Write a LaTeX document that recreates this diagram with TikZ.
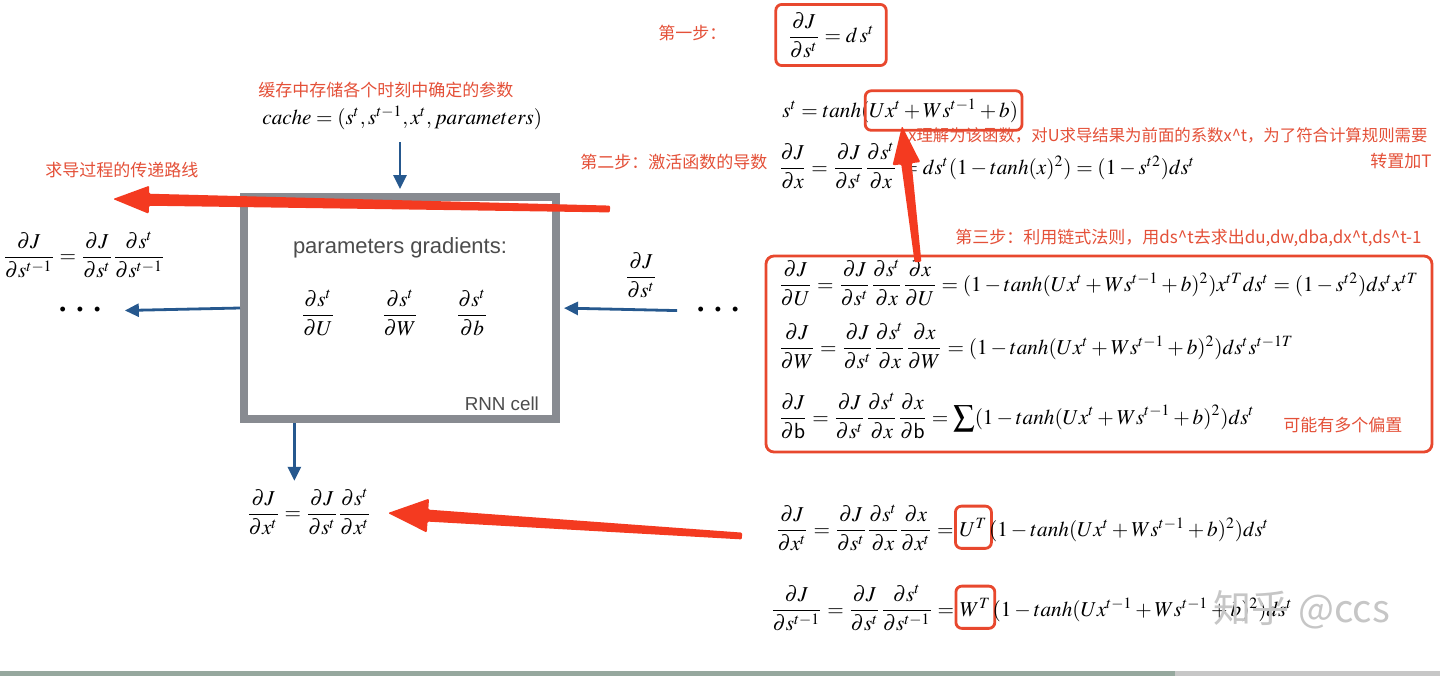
\documentclass[tikz,border=0pt]{standalone}
\usepackage{amsmath,amssymb}
\usepackage{mathptmx}
\usepackage{fontspec}
\setmainfont{Liberation Serif}
\newfontfamily\cjk{Noto Sans CJK SC}
\newfontfamily\helv{Liberation Sans}
\usetikzlibrary{arrows.meta,positioning,calc}
\definecolor{hlred}{RGB}{232,72,46}
\definecolor{notered}{RGB}{228,80,56}
\definecolor{arrowred}{RGB}{244,58,32}
\definecolor{flowblue}{RGB}{38,88,142}
\definecolor{cellgray}{RGB}{136,139,145}
\definecolor{framegreen}{RGB}{150,168,158}
\tikzset{
    eq/.style = {inner sep=0pt, font=\fontsize{10.6}{13}\selectfont},
    note/.style = {text=notered, inner sep=0pt, font=\cjk\fontsize{8.5}{10}\selectfont},
    hlbox/.style = {draw=hlred, line width=1.4pt, rounded corners=3pt, inner sep=3pt},
    flow/.style = {draw=flowblue, line width=1.4pt, -{Triangle[length=7pt,width=6.5pt]}},
    cell/.style = {draw=cellgray, line width=4pt, minimum width=156pt, minimum height=111pt},
    dotsym/.style = {inner sep=0pt, font=\helv\fontsize{9}{9}\selectfont},
}
% tapered red arrow: tail, tip, head length, head half width, neck half width
\newcommand\gradarrow[5]{%
    \coordinate (neck) at ($(#2)!#3!(#1)$);
    \fill[arrowred, rounded corners=0.6pt]
        ($(#1)!1.7pt!90:(#2)$) -- ($(neck)!#5!90:(#2)$) -- ($(neck)!#4!90:(#2)$)
        -- (#2) -- ($(neck)!#4!-90:(#2)$) -- ($(neck)!#5!-90:(#2)$)
        -- ($(#1)!1.7pt!-90:(#2)$) -- cycle;
}
\newcommand\threedots{\textbullet\hspace{5.5pt}\textbullet\hspace{5.5pt}\textbullet}

\begin{document}
\begin{tikzpicture}[x=0.5pt, y=-0.5pt]
\fill[white] (0,0) rectangle (1440,676);
\useasboundingbox (0,0) rectangle (1440,676);
\fill[framegreen] (0,671) rectangle (1175,676);
\fill[black!22] (1175,671) rectangle (1440,676);

% Step one
\node[note, anchor=west] (step1) at (658,33) {第一步：};
\node[eq, hlbox, inner xsep=6pt, inner ysep=4pt] (dJds) at (831,35) {$\dfrac{\partial J}{\partial s^t} = d\,s^t$};

% State update
\node[eq, anchor=base west] (st) at (782,117) {$s^t = tanh($};
\node[eq, hlbox, anchor=base west, inner xsep=2pt, inner ysep=4pt] (stin) at ([xshift=-3pt]st.base east) {$Ux^t + Ws^{t-1} + b)$};
\node[note, anchor=west, font=\cjk\fontsize{8.2}{10}\selectfont] (xnote) at (908,135) {x理解为该函数，对U求导结果为前面的系数x\textasciicircum t，为了符合计算规则需要};
\node[note, anchor=east] (tnote) at (1432,161) {转置加T};

% Step two
\node[note, anchor=west] (step2) at (580,162) {第二步：激活函数的导数};
\node[eq, anchor=base west] (dJdx) at (778,174) {$\dfrac{\partial J}{\partial x} = \dfrac{\partial J}{\partial s^t}\dfrac{\partial s^t}{\partial x} = ds^t(1 - tanh(x)^2) = (1 - s^{t2})ds^t$};

% Step three
\node[note, anchor=west] (step3) at (955,238) {第三步：利用链式法则，用ds\textasciicircum t去求出du,dw,dba,dx\textasciicircum t,ds\textasciicircum t-1};
\node[eq, anchor=base west] (dJdU) at (778,291) {$\dfrac{\partial J}{\partial U} = \dfrac{\partial J}{\partial s^t}\dfrac{\partial s^t}{\partial x}\dfrac{\partial x}{\partial U} = (1 - tanh(Ux^t + Ws^{t-1} + b)^2)x^{tT}ds^t = (1 - s^{t2})ds^t x^{tT}$};
\node[eq, anchor=base west] (dJdW) at (778,354) {$\dfrac{\partial J}{\partial W} = \dfrac{\partial J}{\partial s^t}\dfrac{\partial s^t}{\partial x}\dfrac{\partial x}{\partial W} = (1 - tanh(Ux^t + Ws^{t-1} + b)^2)ds^t s^{t-1T}$};
\node[eq, anchor=base west] (dJdb) at (778,424) {$\dfrac{\partial J}{\partial \mathsf{b}} = \dfrac{\partial J}{\partial s^t}\dfrac{\partial s^t}{\partial x}\dfrac{\partial x}{\partial \mathsf{b}} = \displaystyle\sum (1 - tanh(Ux^t + Ws^{t-1} + b)^2)ds^t$};
\node[note, anchor=west] (bnote) at (1283,425) {可能有多个偏置};
\draw[hlred, line width=1.4pt, rounded corners=4pt] (766,256) rectangle (1432,452);

% Input and previous state gradients
\node[eq, anchor=base west] (dJdxa) at (775,536) {$\dfrac{\partial J}{\partial x^t} = \dfrac{\partial J}{\partial s^t}\dfrac{\partial s^t}{\partial x}\dfrac{\partial x}{\partial x^t} =$};
\node[eq, hlbox, anchor=base west, inner xsep=2pt, inner ysep=6pt] (UT) at (dJdxa.base east) {$U^T$};
\node[eq, anchor=base west] (dJdxb) at ([xshift=-2pt]UT.base east) {$(1 - tanh(Ux^t + Ws^{t-1} + b)^2)ds^t$};

\node[eq, anchor=base west] (dJdsa) at (770,616) {$\dfrac{\partial J}{\partial s^{t-1}} = \dfrac{\partial J}{\partial s^t}\dfrac{\partial s^t}{\partial s^{t-1}} =$};
\node[eq, hlbox, anchor=base west, inner xsep=2pt, inner ysep=6pt] (WT) at (dJdsa.base east) {$W^T$};
\node[eq, anchor=base west] (dJdsb) at ([xshift=-2pt]WT.base east) {$(1 - tanh(Ux^{t-1} + Ws^{t-1} + b)^2)ds^t$};

% RNN cell
\node[note, anchor=west] (cachenote) at (258,90) {缓存中存储各个时刻中确定的参数};
\node[eq, anchor=west] (cache) at (262,118) {$cache = (s^t, s^{t-1}, x^t, parameters)$};
\node[cell] (cell) at (400,308) {};
\node[font=\helv\fontsize{11}{13}\selectfont, text=black!70] (pg) at (400,248) {parameters gradients:};
\node[eq] (gU) at (318,313) {$\dfrac{\partial s^t}{\partial U}$};
\node[eq] (gW) at (400,313) {$\dfrac{\partial s^t}{\partial W}$};
\node[eq] (gb) at (472,313) {$\dfrac{\partial s^t}{\partial b}$};
\node[font=\helv\fontsize{9.4}{11}\selectfont, text=black!70, anchor=east] (rnn) at (546,404) {RNN cell};

\node[eq] (dJdst) at (641,275) {$\dfrac{\partial J}{\partial s^t}$};
\node[dotsym] (dotsR) at (718,311) {\threedots};
\node[dotsym] (dotsL) at (80,311) {\threedots};
\node[eq] (dJdsprev) at (84,255) {$\dfrac{\partial J}{\partial s^{t-1}} = \dfrac{\partial J}{\partial s^t}\dfrac{\partial s^t}{\partial s^{t-1}}$};
\node[eq] (dJdxt) at (309,512) {$\dfrac{\partial J}{\partial x^t} = \dfrac{\partial J}{\partial s^t}\dfrac{\partial s^t}{\partial x^t}$};
\node[note, anchor=west] (tracenote) at (45,170) {求导过程的传递路线};

% Blue flow arrows
\coordinate (cachein) at (400,142);
\coordinate (cellout) at ($(cell.south west)!0.17!(cell.south east)$);
\draw[flow, shorten >=2pt] (cachein) -- (cell.north);
\draw[flow, shorten >=12pt] (cell.west) -- (dotsL.east);
\draw[flow, shorten <=10pt, shorten >=2pt] (dotsR.west) -- (cell.east);
\draw[flow, shorten >=4pt] (cellout) -- (cellout |- dJdxt.north);

% Red trace arrows
\coordinate (traceA) at (610,209);
\coordinate (traceB) at (113,199);
\gradarrow{traceA}{traceB}{18pt}{7pt}{3pt}
\coordinate (upA) at (918,262);
\coordinate (upB) at (902,126);
\gradarrow{upA}{upB}{19pt}{7pt}{2.6pt}
\coordinate (lowA) at (742,536);
\coordinate (lowB) at (388,513);
\gradarrow{lowA}{lowB}{20pt}{8.5pt}{3pt}

% Watermark
\node[font=\cjk\fontsize{19}{19}\selectfont, text=gray!45] (mark) at (1302,610) {知乎 @ccs};
\end{tikzpicture}
\end{document}
